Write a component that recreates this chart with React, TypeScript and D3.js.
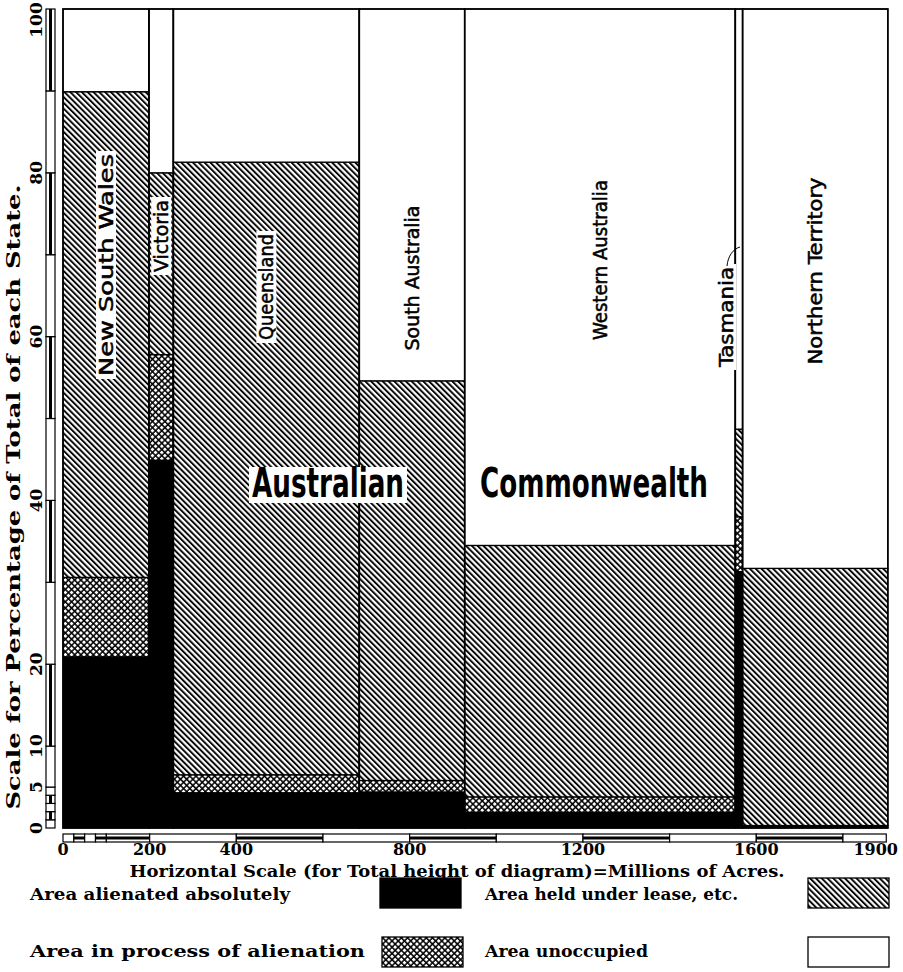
import { useEffect, useRef } from "react";
import * as d3 from "d3";

// area of each state, millions of acres
const states = [
  "New South Wales",
  "Victoria",
  "Queensland",
  "South Australia",
  "Western Australia",
  "Tasmania",
  "Northern Territory",
];
const totalAcres = [198.6, 56.2, 429.1, 243.2, 624.6, 16.8, 335.1];

// percentage of each state's total
const alienated = [20.9, 44.9, 4.3, 4.4, 1.9, 31.3, 0.3];
const inProcess = [9.7, 12.9, 2.2, 1.4, 1.9, 6.7, 0];
const leased = [59.3, 22.2, 74.8, 48.8, 30.7, 10.7, 31.4];

const xTicks = [0, 200, 400, 800, 1200, 1600, 1900];
const yTicks = [0, 5, 10, 20, 40, 60, 80, 100];

const legendItems = [
  "Area alienated absolutely",
  "Area in process of alienation",
  "Area held under lease, etc.",
  "Area unoccupied",
];

const SERIF = "'DejaVu Serif', 'Liberation Serif', serif";
const NARROW = "'Liberation Sans Narrow', 'DejaVu Sans Condensed', 'Liberation Sans', sans-serif";

const App = () => {
  const svgRef = useRef<SVGSVGElement>(null);

  useEffect(() => {
    if (!svgRef.current) return;
    const width = 903;
    const height = 972;
    const svg = d3.select(svgRef.current).attr("width", width).attr("height", height);
    svg.selectAll("*").remove();

    const x = d3.scaleLinear().domain([0, 1900]).range([63, 63 + 1900 * 0.4333]);
    const y = d3.scaleLinear().domain([0, 100]).range([828, 9]);

    const defs = svg.append("defs");
    const hatch = defs
      .append("pattern")
      .attr("id", "hatch")
      .attr("patternUnits", "userSpaceOnUse")
      .attr("width", 4.1)
      .attr("height", 4.1)
      .attr("patternTransform", "rotate(-45)");
    hatch.append("rect").attr("width", 4.1).attr("height", 4.1).attr("fill", "#fff");
    hatch
      .append("line")
      .attr("x1", 1)
      .attr("x2", 1)
      .attr("y1", 0)
      .attr("y2", 4.1)
      .attr("stroke", "#000")
      .attr("stroke-width", 1.9);

    const cross = defs
      .append("pattern")
      .attr("id", "cross")
      .attr("patternUnits", "userSpaceOnUse")
      .attr("width", 4.4)
      .attr("height", 4.4)
      .attr("patternTransform", "rotate(45)");
    cross.append("rect").attr("width", 4.4).attr("height", 4.4).attr("fill", "#fff");
    cross
      .append("path")
      .attr("d", "M1,0V4.4M0,1H4.4")
      .attr("stroke", "#000")
      .attr("stroke-width", 1.5);

    const fills = ["#000", "url(#cross)", "url(#hatch)", "#fff"];

    // stacked mosaic columns
    let start = 0;
    const cols = states.map((name, i) => {
      const x0 = start;
      start += totalAcres[i];
      const parts = [alienated[i], inProcess[i], leased[i]];
      let acc = 0;
      const segs = parts.map((p, k) => {
        const s = { k, y0: acc, y1: acc + p };
        acc += p;
        return s;
      });
      segs.push({ k: 3, y0: acc, y1: 100 });
      return { name, x0, x1: start, segs };
    });

    const g = svg.append("g");
    cols.forEach((c) => {
      c.segs
        .filter((s) => s.y1 > s.y0)
        .forEach((s) => {
          g.append("rect")
            .attr("x", x(c.x0))
            .attr("width", x(c.x1) - x(c.x0))
            .attr("y", y(s.y1))
            .attr("height", y(s.y0) - y(s.y1))
            .attr("fill", fills[s.k])
            .attr("stroke", "#000")
            .attr("stroke-width", 1.3);
        });
      g.append("rect")
        .attr("x", x(c.x0))
        .attr("width", x(c.x1) - x(c.x0))
        .attr("y", y(100))
        .attr("height", y(0) - y(100))
        .attr("fill", "none")
        .attr("stroke", "#000")
        .attr("stroke-width", 1.6);
    });

    // state names
    const labelY: Record<string, number> = {
      "New South Wales": 265,
      Victoria: 236,
      Queensland: 287,
      "South Australia": 278,
      "Western Australia": 260,
      Tasmania: 317,
      "Northern Territory": 271,
    };
    const labelLen: Record<string, number> = {
      "New South Wales": 222,
      Victoria: 72,
      Queensland: 106,
      "South Australia": 145,
      "Western Australia": 160,
      Tasmania: 100,
      "Northern Territory": 187,
    };
    cols.forEach((c) => {
      const cx = c.name === "Tasmania" ? 726 : (x(c.x0) + x(c.x1)) / 2;
      const lab = g
        .append("g")
        .attr("transform", `translate(${cx},${labelY[c.name]}) rotate(-90)`);
      lab.append("rect")
        .attr("x", -labelLen[c.name] / 2 - 3)
        .attr("y", -10)
        .attr("width", labelLen[c.name] + 6)
        .attr("height", 20)
        .attr("fill", "#fff");
      lab.append("text")
        .attr("text-anchor", "middle")
        .attr("dominant-baseline", "central")
        .attr("textLength", labelLen[c.name])
        .attr("lengthAdjust", "spacingAndGlyphs")
        .style("font-family", NARROW)
        .style("font-size", "19px")
        .attr("fill", "#000")
        .attr("stroke", "#000")
        .attr("stroke-width", 0.5)
        .text(c.name);
    });
    // Tasmania leader
    g.append("path")
      .attr("d", "M727,266 C728,256 733,249 740,247")
      .attr("fill", "none")
      .attr("stroke", "#000")
      .attr("stroke-width", 1);

    // big title words
    [
      { t: "Australian", cx: 328, len: 152 },
      { t: "Commonwealth", cx: 594, len: 228 },
    ].forEach((w) => {
      g.append("rect")
        .attr("x", w.cx - w.len / 2 - 3)
        .attr("y", 467)
        .attr("width", w.len + 6)
        .attr("height", 36)
        .attr("fill", "#fff");
      g.append("text")
        .attr("x", w.cx)
        .attr("y", 497)
        .attr("text-anchor", "middle")
        .attr("textLength", w.len)
        .attr("lengthAdjust", "spacingAndGlyphs")
        .style("font-family", NARROW)
        .style("font-weight", "bold")
        .style("font-size", "41px")
        .attr("fill", "#000")
        .text(w.t);
    });

    // scale bars
    const drawBar = (
      segs: [number, number, boolean][],
      horizontal: boolean
    ) => {
      const bar = svg.append("g");
      segs.forEach(([a, b, dark]) => {
        if (horizontal) {
          bar.append("rect")
            .attr("x", x(a)).attr("width", x(b) - x(a))
            .attr("y", 834).attr("height", 8)
            .attr("fill", "#fff").attr("stroke", "#000").attr("stroke-width", 1.2);
          if (dark)
            bar.append("rect")
              .attr("x", x(a)).attr("width", x(b) - x(a))
              .attr("y", 836.5).attr("height", 3).attr("fill", "#000");
        } else {
          bar.append("rect")
            .attr("y", y(b)).attr("height", y(a) - y(b))
            .attr("x", 46).attr("width", 9)
            .attr("fill", "#fff").attr("stroke", "#000").attr("stroke-width", 1.2);
          if (dark)
            bar.append("rect")
              .attr("y", y(b)).attr("height", y(a) - y(b))
              .attr("x", 49).attr("width", 3).attr("fill", "#000");
        }
      });
    };
    drawBar(
      [
        [0, 25, false], [25, 50, true], [50, 75, false], [75, 100, true],
        [100, 200, true], [200, 400, false], [400, 600, true], [600, 800, false],
        [800, 1000, true], [1000, 1200, false], [1200, 1400, true],
        [1400, 1600, false], [1600, 1800, true], [1800, 1900, false],
      ],
      true
    );
    drawBar(
      [
        [0, 1, false], [1, 2, true], [2, 3, false], [3, 4, true], [4, 5, false],
        [5, 10, false], [10, 20, true], [20, 30, false], [30, 40, true],
        [40, 50, false], [50, 60, true], [60, 70, false], [70, 80, true],
        [80, 90, false], [90, 100, true],
      ],
      false
    );

    // tick labels
    svg.append("g")
      .selectAll("text")
      .data(xTicks)
      .join("text")
      .attr("x", (d) => (d === 1900 ? 898 : x(d)))
      .attr("y", 855)
      .attr("text-anchor", (d) => (d === 1900 ? "end" : "middle"))
      .style("font-family", SERIF)
      .style("font-weight", "bold")
      .style("font-size", "16px")
      .text((d) => d);

    svg.append("g")
      .selectAll("text")
      .data(yTicks)
      .join("text")
      .attr("transform", (d) => `translate(36,${Math.max(y(d), 20)}) rotate(-90)`)
      .attr("text-anchor", "middle")
      .attr("dominant-baseline", "central")
      .style("font-family", SERIF)
      .style("font-weight", "bold")
      .style("font-size", "17px")
      .text((d) => d);

    // axis titles
    svg.append("text")
      .attr("x", 457)
      .attr("y", 877)
      .attr("text-anchor", "middle")
      .attr("textLength", 655)
      .attr("lengthAdjust", "spacingAndGlyphs")
      .style("font-family", SERIF)
      .style("font-weight", "bold")
      .style("font-size", "16px")
      .text("Horizontal Scale (for Total height of diagram)=Millions of Acres.");

    svg.append("text")
      .attr("transform", "translate(13,497) rotate(-90)")
      .attr("text-anchor", "middle")
      .attr("dominant-baseline", "central")
      .attr("textLength", 625)
      .attr("lengthAdjust", "spacingAndGlyphs")
      .style("font-family", SERIF)
      .style("font-weight", "bold")
      .style("font-size", "18px")
      .text("Scale for Percentage of Total of each State.");

    // legend
    const legendPos = [
      { tx: 30, ty: 900, len: 260, bx: 380, by: 878 },
      { tx: 30, ty: 957, len: 335, bx: 382, by: 937 },
      { tx: 485, ty: 900, len: 253, bx: 808, by: 878 },
      { tx: 485, ty: 957, len: 163, bx: 808, by: 937 },
    ];
    const lg = svg.append("g");
    legendItems.forEach((label, i) => {
      const p = legendPos[i];
      lg.append("text")
        .attr("x", p.tx)
        .attr("y", p.ty)
        .attr("textLength", p.len)
        .attr("lengthAdjust", "spacingAndGlyphs")
        .style("font-family", SERIF)
        .style("font-weight", "bold")
        .style("font-size", "16px")
        .text(label);
      lg.append("rect")
        .attr("x", p.bx)
        .attr("y", p.by)
        .attr("width", 81)
        .attr("height", 30)
        .attr("fill", fills[i])
        .attr("stroke", "#000")
        .attr("stroke-width", 1.3);
    });
  }, []);

  return (
    <div style={{ position: "absolute", top: 0, left: 0 }}>
      <svg ref={svgRef} style={{ display: "block", background: "#fff" }} />
    </div>
  );
};

export default App;
